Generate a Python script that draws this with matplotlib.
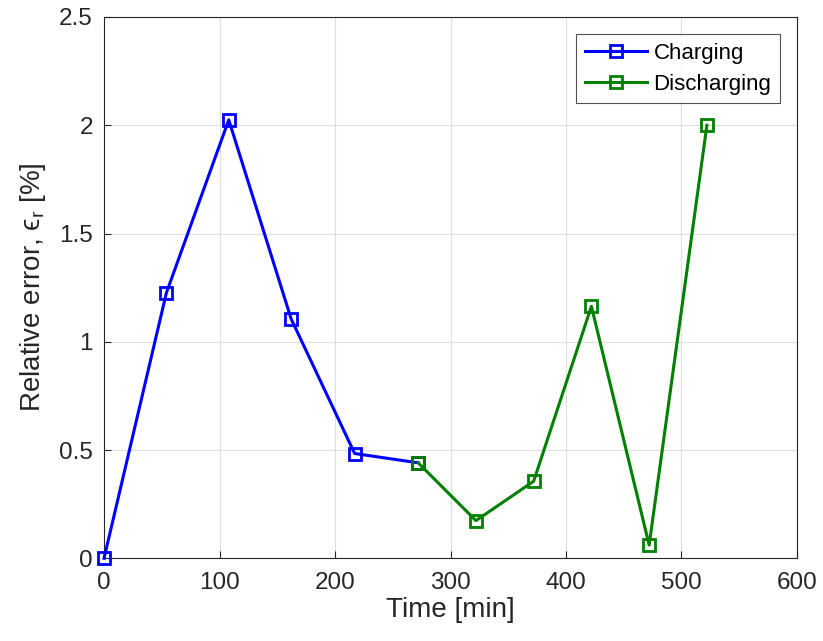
import matplotlib
matplotlib.use('Agg')
import matplotlib.pyplot as plt

# Relative error vs time, charging then discharging
t_charge = [0, 54, 108, 162, 217, 272]
err_charge = [0.0, 1.226, 2.025, 1.106, 0.484, 0.441]
t_discharge = [272, 322, 372, 422, 472, 522]
err_discharge = [0.441, 0.174, 0.356, 1.164, 0.061, 2.0]

plt.rcParams['font.family'] = ['Liberation Sans', 'DejaVu Sans']

fig = plt.figure(figsize=(8.23, 6.41), dpi=100)
ax = fig.add_axes([0.1264, 0.129, 0.842, 0.8445])

ax.plot(t_charge, err_charge, color='#0000ff', lw=2.2, marker='s', ms=8.5,
        mfc='none', mew=2.0, label='Charging', clip_on=False, zorder=3)
ax.plot(t_discharge, err_discharge, color='#008000', lw=2.2, marker='s', ms=8.5,
        mfc='none', mew=2.0, label='Discharging', clip_on=False, zorder=3)

ax.set_xlim(0, 600)
ax.set_ylim(0, 2.5)
ax.set_xticks([0, 100, 200, 300, 400, 500, 600])
ax.set_yticks([0, 0.5, 1, 1.5, 2, 2.5])
ax.set_yticklabels(['0', '0.5', '1', '1.5', '2', '2.5'])
ax.grid(True, color='#dedede', lw=0.8)
ax.set_axisbelow(True)
ax.tick_params(direction='in', length=5, width=0.8, colors='#262626', labelsize=17.5)
ax.tick_params(axis='x', pad=10)
ax.tick_params(axis='y', pad=8)
for s in ax.spines.values():
    s.set_color('#262626')
    s.set_linewidth(0.8)

ax.set_xlabel('Time [min]', fontsize=20, color='#262626', labelpad=2)
ax.set_ylabel('Relative error, ϵ$_\\mathregular{r}$ [%]', fontsize=20, color='#262626', labelpad=8)

leg = ax.legend(loc='upper right', fontsize=16, frameon=True, fancybox=False,
                edgecolor='#262626', borderaxespad=0.75, handlelength=2.8,
                labelspacing=0.45, borderpad=0.4, handletextpad=0.3)
leg.get_frame().set_linewidth(0.8)

fig.savefig('out.png', dpi=100)
